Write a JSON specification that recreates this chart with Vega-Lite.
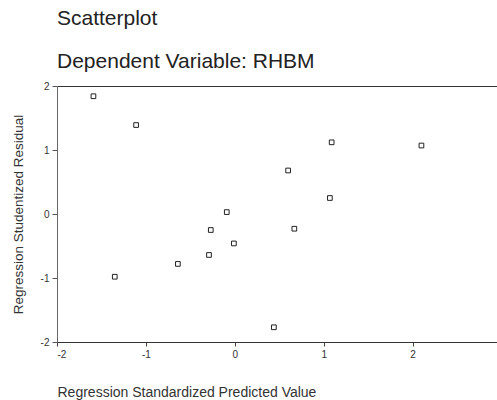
{
  "$schema": "https://vega.github.io/schema/vega-lite/v6.json",
  "width": 440,
  "height": 256,
  "autosize": {"type": "none"},
  "padding": {"left": 57, "top": 86, "right": 0, "bottom": 58},
  "background": "white",
  "title": {
    "text": "Scatterplot",
    "subtitle": "Dependent Variable: RHBM",
    "anchor": "start",
    "frame": "group",
    "font": "Liberation Sans",
    "fontSize": 21,
    "fontWeight": "normal",
    "color": "#222",
    "subtitleFont": "Liberation Sans",
    "subtitleFontSize": 21,
    "subtitleColor": "#222",
    "subtitlePadding": 22,
    "offset": 9
  },
  "config": {
    "view": {"stroke": null},
    "font": "Liberation Sans"
  },
  "data": {
    "values": [
      {"pred": -1.59, "resid": 1.84},
      {"pred": -1.11, "resid": 1.39},
      {"pred": -1.35, "resid": -0.98},
      {"pred": -0.64, "resid": -0.78},
      {"pred": -0.29, "resid": -0.64},
      {"pred": -0.27, "resid": -0.25},
      {"pred": -0.09, "resid": 0.03},
      {"pred": -0.01, "resid": -0.46},
      {"pred": 0.44, "resid": -1.77},
      {"pred": 0.60, "resid": 0.68},
      {"pred": 0.67, "resid": -0.23},
      {"pred": 1.09, "resid": 1.12},
      {"pred": 1.07, "resid": 0.25},
      {"pred": 2.10, "resid": 1.07}
    ]
  },
  "mark": {"type": "point", "shape": "square", "filled": false, "size": 22, "stroke": "#222", "strokeWidth": 1, "opacity": 1},
  "encoding": {
    "x": {
      "field": "pred",
      "type": "quantitative",
      "scale": {"domain": [-2, 2.95], "nice": false, "zero": false},
      "axis": {
        "values": [-2, -1, 0, 1, 2],
        "labelExpr": "replace(datum.label, '\u2212', '-')",
        "grid": false,
        "domainColor": "#333",
        "domainWidth": 1.2,
        "tickColor": "#444",
        "tickSize": 4,
        "labelPadding": 3,
        "labelFontSize": 10,
        "labelColor": "#333",
        "title": "Regression Standardized Predicted Value",
        "titleFontSize": 14,
        "titleFontWeight": "normal",
        "titleColor": "#333",
        "titleAnchor": "start",
        "titleAlign": "left",
        "titleBaseline": "alphabetic",
        "titleX": 0,
        "titleY": 54
      }
    },
    "y": {
      "field": "resid",
      "type": "quantitative",
      "scale": {"domain": [-2, 2], "nice": false, "zero": false},
      "axis": {
        "values": [-2, -1, 0, 1, 2],
        "labelExpr": "replace(datum.label, '\u2212', '-')",
        "grid": true,
        "gridColor": "#333",
        "gridWidth": 1.2,
        "gridOpacity": {"condition": {"test": "datum.value == 2", "value": 1}, "value": 0},
        "domainColor": "#666",
        "domainWidth": 1,
        "tickColor": "#555",
        "tickSize": 5,
        "labelPadding": 3,
        "labelFontSize": 10,
        "labelColor": "#333",
        "title": "Regression Studentized Residual",
        "titleFontSize": 13.5,
        "titleFontWeight": "normal",
        "titleColor": "#333",
        "titleAngle": -90,
        "titleAlign": "center",
        "titleBaseline": "bottom",
        "titleX": -32,
        "titleY": 128
      }
    }
  }
}
